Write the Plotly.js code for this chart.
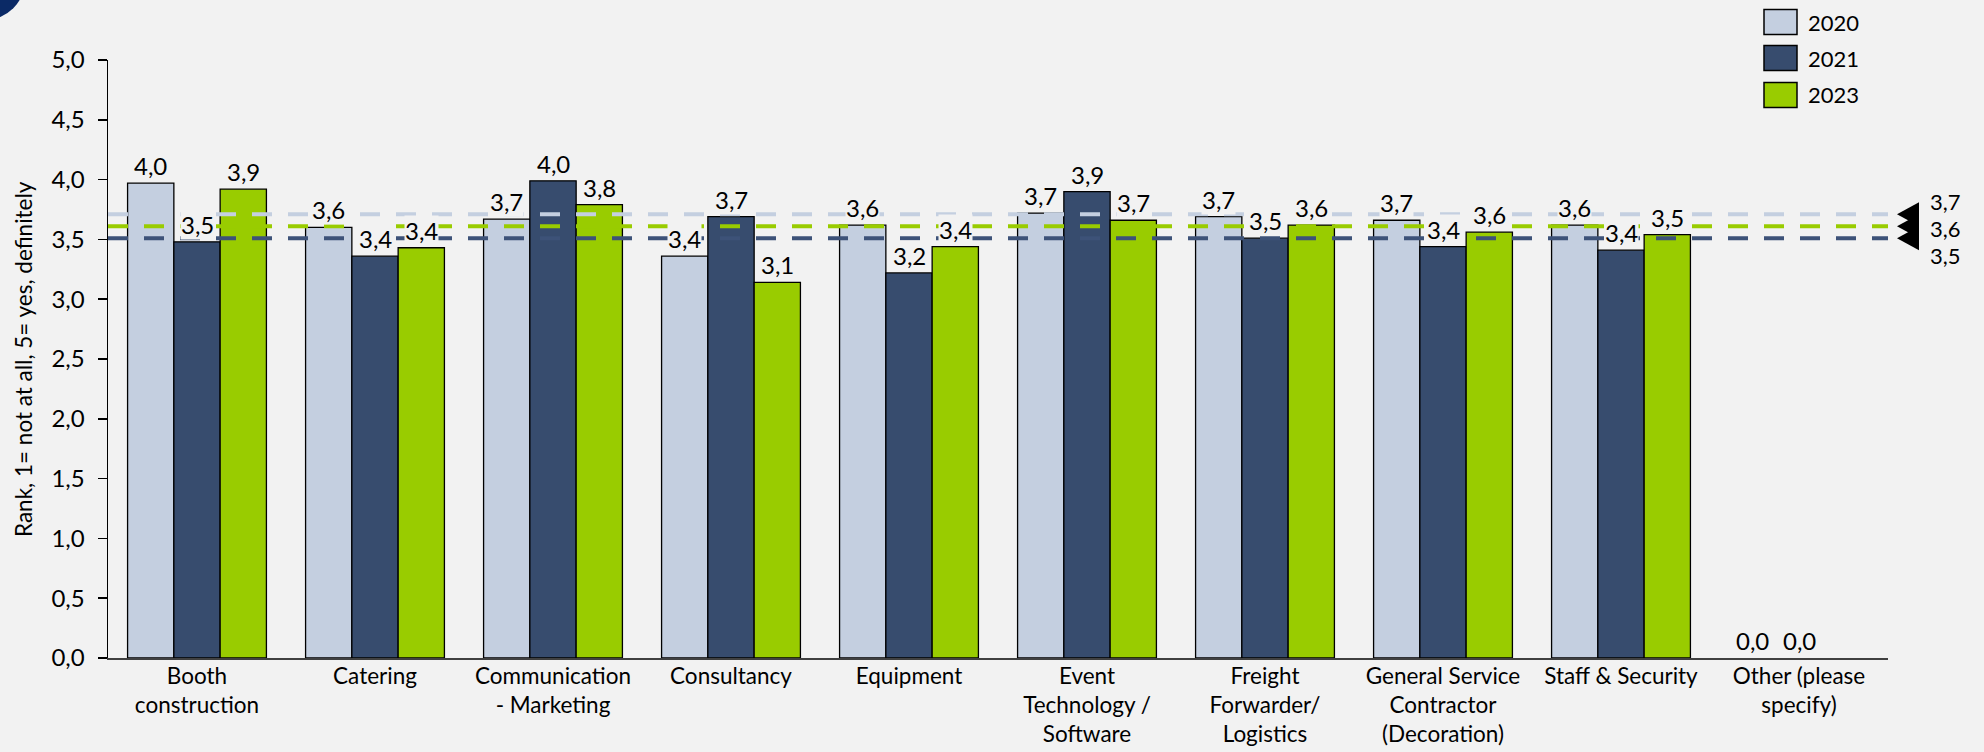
<!DOCTYPE html>
<html><head><meta charset="utf-8">
<script src="https://cdn.plot.ly/plotly-3.0.1.min.js"></script>
<style>html,body{margin:0;padding:0;background:#f2f2f2;}#chart{width:1984px;height:752px;}</style>
</head><body><div id="chart"></div>
<script>
// ---- data ----
const categories = ["Booth construction","Catering","Communication - Marketing","Consultancy","Equipment","Event Technology / Software","Freight Forwarder/ Logistics","General Service Contractor (Decoration)","Staff & Security","Other (please specify)"];
const tickLabels = ["Booth<br>construction","Catering","Communication<br>- Marketing","Consultancy","Equipment","Event<br>Technology /<br>Software","Freight<br>Forwarder/<br>Logistics","General Service<br>Contractor<br>(Decoration)","Staff & Security","Other (please<br>specify)"];
const seriesNames = ["2020","2021","2023"];
const values2020 = [3.97,3.60,3.67,3.36,3.62,3.72,3.69,3.66,3.62,0];
const values2021 = [3.48,3.36,3.99,3.69,3.22,3.90,3.51,3.44,3.41,0];
const values2023 = [3.92,3.43,3.79,3.14,3.44,3.66,3.62,3.56,3.54,null];
const averages = [3.71,3.51,3.61]; // 2020, 2021, 2023
const yTickVals = [0,0.5,1,1.5,2,2.5,3,3.5,4,4.5,5];
const yTitle = "Rank, 1= not at all, 5= yes, definitely";

// ---- style ----
const fillColors = ["#c4cfe0","#374c6e","#99cc00"];
const lineColors = ["#c4cfe0","#3d5278","#99cc00"];
const FONT = "Lato, 'Open Sans', sans-serif";
const W = 1984, H = 752, ML = 108, MR = 96, MT = 60, MB = 94;
const PW = W - ML - MR, PH = H - MT - MB;
const BARGAP = 0.22;
const catW = PW / categories.length;
const barW = catW * (1 - BARGAP) / 3;
const px2x = p => (p - ML) / PW;
const px2y = p => (H - MB - p) / PH;
const fmt = v => v.toFixed(1).replace('.', ',');

const allValues = [values2020, values2021, values2023];
const traces = allValues.map((vals, i) => ({
  type: 'bar', name: seriesNames[i], x: categories, y: vals,
  marker: {color: fillColors[i], line: {color: '#000000', width: vals.map(v => v ? 1.3 : 0)}},
  showlegend: false, hoverinfo: 'x+y'
}));

const shapes = [];
const annotations = [];

// average dashed lines + markers
averages.forEach((a, i) => {
  shapes.push({type: 'line', xref: 'paper', yref: 'y', x0: 0, x1: 1, y0: a, y1: a,
    line: {color: lineColors[i], width: 4, dash: '20px,16px'}, layer: 'above'});
  shapes.push({type: 'path', xref: 'paper', yref: 'y', xsizemode: 'pixel', ysizemode: 'pixel',
    xanchor: 1, yanchor: a, path: 'M9,0 L31,12 L31,-12 Z',
    fillcolor: '#000000', line: {width: 0}, layer: 'above'});
});
// right side average labels, sorted high->low
const sortedAvg = averages.slice().sort((a, b) => b - a);
const avgShift = [13, -2, -17];
sortedAvg.forEach((a, k) => {
  annotations.push({xref: 'paper', yref: 'y', x: 1, y: a, xshift: 40, yshift: avgShift[k],
    xanchor: 'left', yanchor: 'middle', text: fmt(a), showarrow: false,
    font: {family: FONT, size: 22, color: '#000'}});
});

// data labels
allValues.forEach((vals, i) => {
  vals.forEach((v, j) => {
    if (v === null) return;
    annotations.push({xref: 'x', yref: 'y', x: categories[j], y: v, xshift: (i - 1) * barW, yshift: 2,
      xanchor: 'center', yanchor: 'bottom', text: fmt(v), showarrow: false,
      bgcolor: '#f2f2f2', borderpad: 0,
      font: {family: FONT, size: 24, color: '#000'}});
  });
});

// y axis title
annotations.push({xref: 'paper', yref: 'paper', x: px2x(23), y: 0.5, xanchor: 'center', yanchor: 'middle',
  textangle: -90, text: yTitle, showarrow: false, font: {family: FONT, size: 22.5, color: '#000'}});

// custom legend
const legRows = [22, 58, 95];
seriesNames.forEach((n, i) => {
  shapes.push({type: 'rect', xref: 'paper', yref: 'paper',
    x0: px2x(1764), x1: px2x(1797), y0: px2y(legRows[i] - 12.5), y1: px2y(legRows[i] + 12.5),
    fillcolor: fillColors[i], line: {color: '#000', width: 1.5}, layer: 'above'});
  annotations.push({xref: 'paper', yref: 'paper', x: px2x(1806), y: px2y(legRows[i]),
    xanchor: 'left', yanchor: 'middle', text: n, showarrow: false,
    font: {family: FONT, size: 22, color: '#000'}});
});

// decorative corner circle
shapes.push({type: 'circle', xref: 'paper', yref: 'paper',
  x0: px2x(-55), x1: px2x(25), y0: px2y(-60), y1: px2y(20),
  fillcolor: '#0b2a66', line: {width: 0}, layer: 'above'});

const layout = {
  width: W, height: H,
  margin: {l: ML, r: MR, t: MT, b: MB, pad: 0},
  paper_bgcolor: '#f2f2f2', plot_bgcolor: '#f2f2f2',
  separators: ',.',
  barmode: 'group', bargap: BARGAP, bargroupgap: 0,
  font: {family: FONT, size: 22, color: '#000'},
  xaxis: {type: 'category', tickvals: categories, ticktext: tickLabels,
    showline: true, linecolor: '#404040', linewidth: 1.5, ticks: '', showgrid: false,
    zeroline: false, ticklabelstandoff: -3,
    tickfont: {family: FONT, size: 22.5, color: '#000'}, automargin: false},
  yaxis: {range: [0, 5], tickvals: yTickVals, tickformat: '.1f', showline: true,
    linecolor: '#000', linewidth: 1.5, ticks: 'outside', ticklen: 9, tickwidth: 1.5, tickcolor: '#000',
    showgrid: false, zeroline: false, ticklabelstandoff: 8,
    tickfont: {family: FONT, size: 24, color: '#000'}, automargin: false},
  shapes: shapes, annotations: annotations, showlegend: false
};

Plotly.newPlot('chart', traces, layout, {displayModeBar: false, staticPlot: true});
</script></body></html>
